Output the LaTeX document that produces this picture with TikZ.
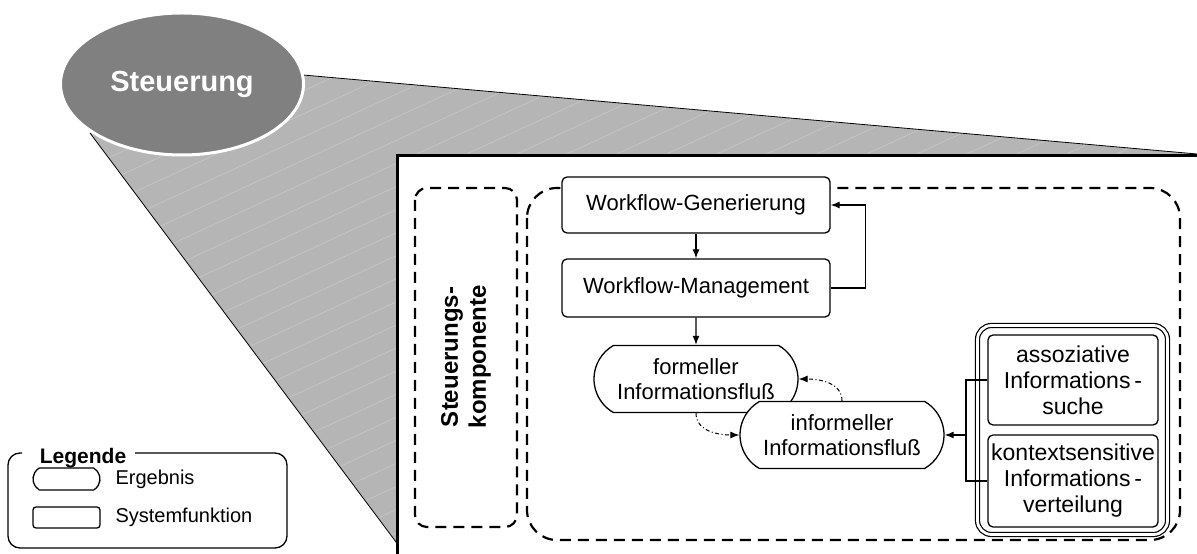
\documentclass[tikz,border=0pt]{standalone}
\usepackage{fontspec}
\setmainfont{Liberation Sans}
\usetikzlibrary{shapes.geometric,shapes.misc,arrows.meta}
\begin{document}
\begin{tikzpicture}[x=1pt,y=1pt,>={Latex[length=9pt,width=7pt]},
  sysfkt/.style={draw,line width=1.3pt,rounded corners=5pt,fill=white,align=center,inner sep=0pt,font=\fontsize{22}{26}\selectfont},
  ergebnis/.style={draw,line width=1.3pt,rounded rectangle,rounded rectangle arc length=120,fill=white,align=center,inner sep=0pt,minimum width=204pt,minimum height=67pt,font=\fontsize{22}{25}\selectfont},
  strich/.style={dash pattern=on 11pt off 7pt,line width=2.2pt},
  punktstrich/.style={->,line width=1pt,dash pattern=on 4pt off 2.5pt on 1pt off 2.5pt}]
\useasboundingbox (0,0) rectangle (1197,554);
\begin{scope}
\clip (0,0) rectangle (1197,554);
\fill[black!29] (90,421) -- (303,479) -- (1197,400) -- (1197,0) -- (405,0) -- cycle;
\begin{scope}
\clip (90,421) -- (303,479) -- (1197,400) -- (1197,0) -- (405,0) -- cycle;
\foreach \x in {-900,-850,...,1200}
  \draw[white,opacity=0.25,line width=0.6pt] (\x,0) -- ++(1300,600);
\end{scope}
\draw[line width=0.8pt] (90,421) -- (405,0);
\draw[line width=0.8pt] (303,479) -- (1197,400);
\node[ellipse,fill=black!50,draw=white,line width=3pt,minimum width=243pt,minimum height=142pt,text=white,font=\bfseries\fontsize{29}{32}\selectfont] (steuer) at (182,470) {Steuerung};
\draw[line width=3pt,fill=white] (397,398) rectangle (1230,-30);
\end{scope}

\draw[strich,rounded corners=12pt] (415,366) rectangle (517,27);
\draw[strich,rounded corners=30pt] (527,366) rectangle (1180,14);
\node[rotate=90,align=center,font=\bfseries\fontsize{24}{28}\selectfont] (komp) at (466,197) {Steuerungs-\\komponente};

\node[sysfkt,minimum width=268pt,minimum height=56pt] (gen) at (696,349) {Workflow-Generierung};
\node[sysfkt,minimum width=268pt,minimum height=58pt] (man) at (696,266) {Workflow-Management};
\node[ergebnis] (formell) at (696,175) {formeller\\Informationsfluß};
\node[ergebnis] (informell) at (842,119) {informeller\\Informationsfluß};
\draw[->,line width=1.2pt] (gen) -- (man);
\draw[->,line width=1.2pt] (man) -- (formell);
\draw[->,line width=1.2pt] (man.east) -- ++(35,0) |- (gen.east);
\draw[punktstrich] (formell.south) to[out=-90,in=180] (informell.west);
\draw[punktstrich] (informell.north) to[out=90,in=0] (formell.east);

\draw[line width=1.2pt,double,double distance=2.8pt,rounded corners=14pt] (977.5,228.5) rectangle (1167.5,19.5);
\node[sysfkt,minimum width=170pt,minimum height=90pt,font=\fontsize{23}{26}\selectfont] (suche) at (1073,174) {assoziative\\Informations\,-\\suche};
\node[sysfkt,minimum width=170pt,minimum height=92pt,font=\fontsize{23}{26}\selectfont] (vert) at (1073,73) {kontextsensitive\\Informations\,-\\verteilung};
\coordinate (klammer) at (966,119);
\draw[line width=1.2pt] (suche.west) -| (klammer) |- (vert.west);
\draw[->,line width=1.2pt] (klammer) -- (informell.east);

\draw[line width=1.3pt,rounded corners=12pt] (135,101) -- (287,101) -- (287,6) -- (8,6) -- (8,101) -- (22,101);
\node[font=\bfseries\fontsize{21}{24}\selectfont] (leg) at (83,96) {Legende};
\node[ergebnis,minimum width=67pt,minimum height=22pt] (legerg) at (66.5,75) {};
\node[anchor=west,font=\fontsize{20}{24}\selectfont] (legergtext) at (112,75) {Ergebnis};
\node[sysfkt,minimum width=67pt,minimum height=21pt,rounded corners=3pt] (legsys) at (66.5,36.5) {};
\node[anchor=west,font=\fontsize{20}{24}\selectfont] (legsystext) at (112,36.5) {Systemfunktion};
\end{tikzpicture}
\end{document}
